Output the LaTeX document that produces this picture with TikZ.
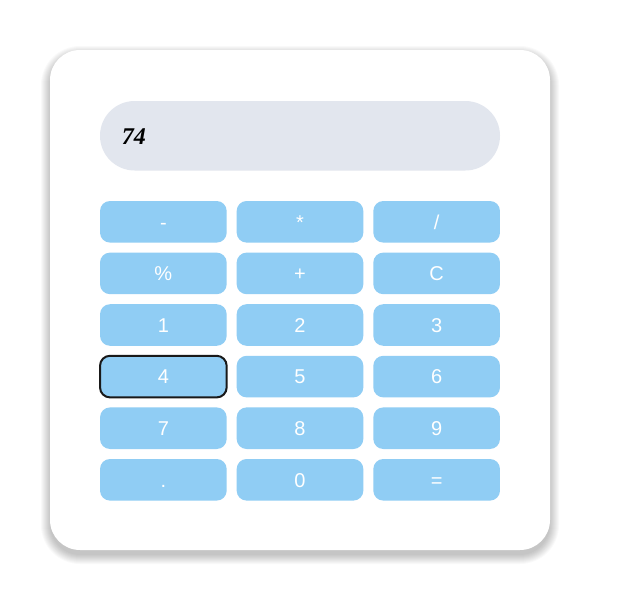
\documentclass[tikz,border=0pt]{standalone}
\usepackage{fontspec}
\setmainfont{Liberation Sans}
\newfontfamily\dispfont{Liberation Serif}
\definecolor{btnblue}{HTML}{90CDF4}
\definecolor{dispgray}{HTML}{E2E6EE}
\tikzset{
  card/.style={fill=white, rounded corners=22.5pt},
  shadowlayer/.style={fill=black, opacity=0.022},
  display/.style={fill=dispgray, rounded corners=26pt},
  btn/.style={fill=btnblue, rounded corners=7.5pt, draw=none,
    minimum width=95pt, minimum height=31.2pt, inner sep=0pt,
    text=white, font=\fontsize{15pt}{18pt}\selectfont,
    text height=11pt, text depth=0pt},
  active/.style={draw=black!90, line width=1.5pt},
  disptext/.style={font=\dispfont\bfseries\itshape\fontsize{18pt}{22pt}\selectfont, inner sep=0pt, anchor=base west}
}
\begin{document}
\begin{tikzpicture}[x=0.75pt,y=-0.75pt]
\useasboundingbox[fill=white] (0,0) rectangle (626,593);
\foreach \k in {0,...,9}{
  \pgfmathsetmacro\rr{22.5+0.75*\k}
  \fill[shadowlayer, rounded corners=\rr pt] (50-\k,55-\k) rectangle (550+\k,555+\k);
}
\path[card] (50,50) rectangle (550,550);
\path[display] (100,101) rectangle (500,170.5);
\node[disptext] (disp) at (121.5,144) {74};
% row 1
\node[btn] (bminus) at (163.35,221.8) {-};
\node[btn] (btimes) at (300,221.8) {*};
\node[btn] (bdiv) at (436.65,221.8) {/};
% row 2
\node[btn] (bpct) at (163.35,273.4) {\%};
\node[btn] (bplus) at (300,273.4) {+};
\node[btn] (bclear) at (436.65,273.4) {C};
% row 3
\node[btn] (b1) at (163.35,325.0) {1};
\node[btn] (b2) at (300,325.0) {2};
\node[btn] (b3) at (436.65,325.0) {3};
% row 4
\node[btn,active] (b4) at (163.35,376.6) {4};
\node[btn] (b5) at (300,376.6) {5};
\node[btn] (b6) at (436.65,376.6) {6};
% row 5
\node[btn] (b7) at (163.35,428.2) {7};
\node[btn] (b8) at (300,428.2) {8};
\node[btn] (b9) at (436.65,428.2) {9};
% row 6
\node[btn] (bdot) at (163.35,479.8) {.};
\node[btn] (b0) at (300,479.8) {0};
\node[btn] (beq) at (436.65,479.8) {=};
\end{tikzpicture}
\end{document}
